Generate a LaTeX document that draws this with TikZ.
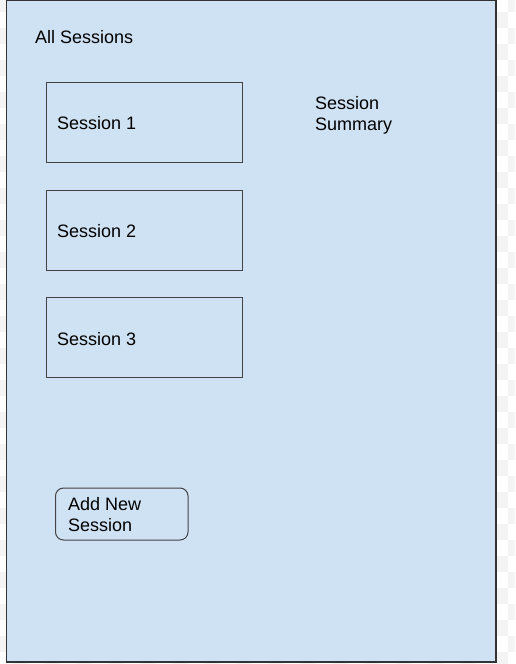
\documentclass[tikz,border=0pt]{standalone}
\usepackage{fontspec}
\setmainfont{Liberation Sans}
\definecolor{panelblue}{HTML}{CFE2F3}
\definecolor{frameline}{HTML}{333333}
\definecolor{boxline}{HTML}{434343}
\definecolor{checker}{HTML}{F4F4F4}
\begin{document}
\begin{tikzpicture}[x=1pt,y=-1pt,
  lbl/.style={font=\fontsize{18}{21}\selectfont, text=black, inner sep=0pt, anchor=base west, align=left},
  sessbox/.style={draw=boxline, line width=1pt},
  addbox/.style={draw=boxline, line width=1pt, rounded corners=8pt}]
\useasboundingbox (0,0) rectangle (515,664);
\fill[white] (0,0) rectangle (515,664);
\begin{scope}
\clip (0,0) rectangle (515,664);
\foreach \c in {0,...,32}{
  \foreach \r in {0,...,42}{
    \pgfmathtruncatemacro{\cellpar}{mod(\c+\r,2)}
    \ifnum\cellpar=0
      \fill[checker] ({16*\c-4},{16*\r-4}) rectangle ++(16,16);
    \fi
  }
}
\end{scope}
\draw[fill=panelblue, draw=frameline, line width=1.5pt] (6.5,0.5) rectangle (496,662) coordinate (panelse);
\node[lbl] (all) at (35,43) {All Sessions};
\draw[sessbox] (46.5,82.5) rectangle (242.5,162) coordinate (s1se);
\node[lbl] (s1) at (57,129) {Session 1};
\draw[sessbox] (46.5,190.5) rectangle (242.5,270) coordinate (s2se);
\node[lbl] (s2) at (57,237) {Session 2};
\draw[sessbox] (46.5,297.5) rectangle (242.5,377.5) coordinate (s3se);
\node[lbl] (s3) at (57,345) {Session 3};
\node[lbl] (summary) at (315,130) {Session\\Summary};
\draw[addbox] (55.5,488) rectangle (188,540) coordinate (addse);
\node[lbl] (add) at (68,531) {Add New\\Session};
\end{tikzpicture}
\end{document}
